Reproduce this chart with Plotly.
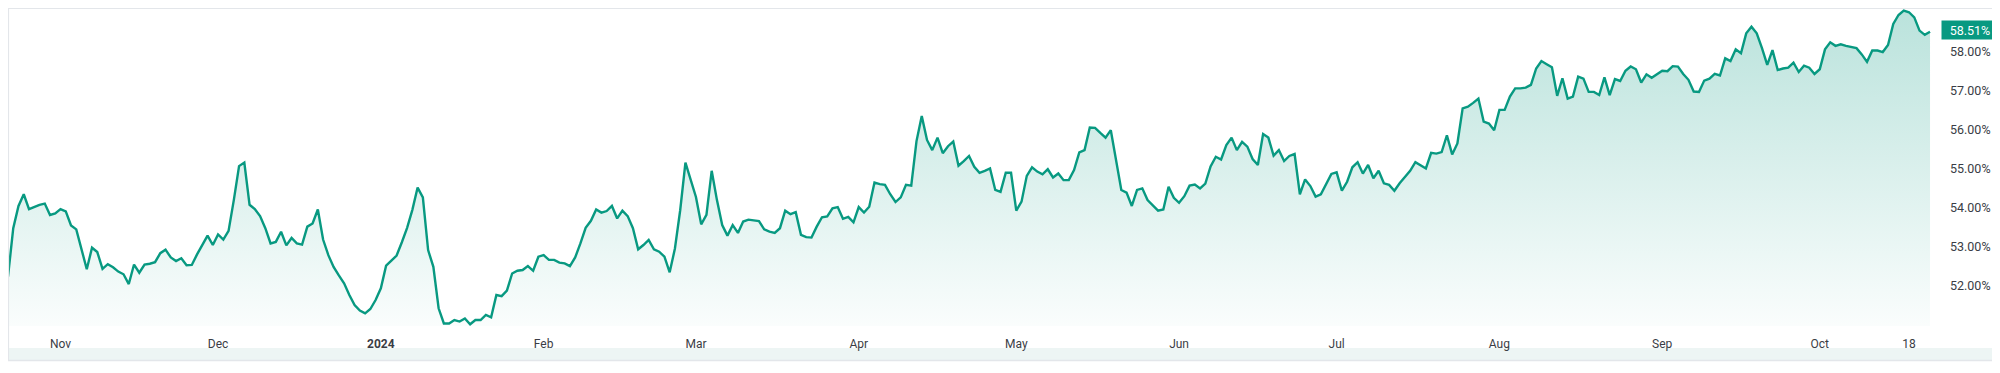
import plotly.graph_objects as go
import pandas as pd

# ---- data ----
start_date = "2023-10-22"
values = [
    52.24, 53.48, 54.05, 54.35, 53.97, 54.03, 54.08, 54.11, 53.82, 53.86,
    53.97, 53.91, 53.55, 53.45, 52.96, 52.43, 52.98, 52.87, 52.44, 52.56,
    52.48, 52.37, 52.30, 52.05, 52.55, 52.34, 52.55, 52.57, 52.61, 52.84,
    52.93, 52.73, 52.64, 52.71, 52.53, 52.54, 52.81, 53.05, 53.29, 53.05,
    53.32, 53.19, 53.41, 54.20, 55.07, 55.16, 54.08, 53.97, 53.79, 53.48,
    53.09, 53.13, 53.39, 53.04, 53.23, 53.09, 53.06, 53.52, 53.60, 53.96,
    53.19, 52.79, 52.49, 52.27, 52.07, 51.77, 51.51, 51.37, 51.30, 51.41,
    51.64, 51.94, 52.52, 52.65, 52.78, 53.12, 53.49, 53.95, 54.52, 54.27,
    52.92, 52.49, 51.43, 51.04, 51.04, 51.13, 51.09, 51.17, 51.02, 51.13,
    51.13, 51.26, 51.20, 51.77, 51.74,
    51.88, 52.32, 52.39, 52.41, 52.51, 52.39, 52.75, 52.79, 52.67, 52.67,
    52.60, 52.58, 52.51, 52.73, 53.09, 53.49, 53.67, 53.96, 53.88, 53.92,
    54.05, 53.73, 53.93, 53.79, 53.48, 52.94, 53.05, 53.18, 52.94, 52.88,
    52.75, 52.35, 52.96, 53.94, 55.16, 54.71, 54.28, 53.58, 53.82, 54.95,
    54.20, 53.56, 53.29, 53.56, 53.36, 53.65, 53.70, 53.68, 53.66, 53.45,
    53.39, 53.36, 53.48, 53.93, 53.84, 53.89, 53.31, 53.25, 53.24, 53.52,
    53.76, 53.78, 53.99, 54.02, 53.72, 53.77, 53.63, 54.02, 53.88, 54.03,
    54.65, 54.61, 54.59, 54.35, 54.15, 54.27, 54.59, 54.57, 55.71, 56.35,
    55.74, 55.48, 55.80, 55.40, 55.58, 55.70, 55.08, 55.20, 55.33, 55.05,
    54.90, 54.95, 55.01, 54.46, 54.41,
    54.90, 54.90, 53.93, 54.16, 54.82, 55.04, 54.93, 54.86, 54.99, 54.78,
    54.88, 54.71, 54.71, 54.97, 55.42, 55.48, 56.06, 56.05, 55.92, 55.80,
    55.99, 55.23, 54.46, 54.39, 54.05, 54.46, 54.50, 54.20, 54.06, 53.93,
    53.96, 54.54, 54.26, 54.13, 54.30, 54.57, 54.60, 54.50, 54.62, 55.06,
    55.31, 55.24, 55.61, 55.80, 55.48, 55.69, 55.57, 55.25, 55.10, 55.89,
    55.80, 55.34, 55.48, 55.20, 55.33, 55.38, 54.35, 54.73, 54.56, 54.29,
    54.35, 54.61, 54.87, 54.91, 54.44, 54.67, 55.04, 55.17, 54.88, 55.10,
    54.76, 54.95, 54.63, 54.59, 54.44, 54.63, 54.80, 54.95, 55.17, 55.10,
    55.01, 55.41, 55.39, 55.43, 55.86, 55.37, 55.65, 56.55, 56.59, 56.69,
    56.80, 56.21, 56.16, 55.99, 56.51,
    56.51, 56.85, 57.06, 57.06, 57.08, 57.15, 57.57, 57.76, 57.68, 57.60,
    56.87, 57.32, 56.80, 56.85, 57.36, 57.31, 56.97, 56.97, 56.89, 57.34,
    56.89, 57.30, 57.25, 57.51, 57.62, 57.55, 57.21, 57.42, 57.33, 57.43,
    57.51, 57.50, 57.63, 57.62, 57.43, 57.28, 56.98, 56.97, 57.26, 57.31,
    57.43, 57.39, 57.83, 57.76, 58.06, 57.96, 58.47, 58.64, 58.47, 58.09,
    57.66, 58.04, 57.53, 57.57, 57.59, 57.72, 57.48, 57.64, 57.59, 57.43,
    57.55, 58.06, 58.24, 58.15, 58.19, 58.15, 58.11, 58.09, 57.93, 57.74,
    58.03, 58.03, 57.99, 58.17,
    58.71, 58.94, 59.05, 59.01, 58.88, 58.54, 58.43, 58.51,
]
dates = pd.date_range(start_date, periods=len(values), freq="D")

x_tick_dates = ["2023-11-01", "2023-12-01", "2024-01-01", "2024-02-01", "2024-03-01",
                "2024-04-01", "2024-05-01", "2024-06-01", "2024-07-01", "2024-08-01",
                "2024-09-01", "2024-10-01", "2024-10-18"]
x_tick_labels = ["Nov", "Dec", "<b>2024</b>", "Feb", "Mar", "Apr", "May", "Jun", "Jul",
                 "Aug", "Sep", "Oct", "18"]
y_tick_vals = [52, 53, 54, 55, 56, 57, 58]
y_tick_labels = ["52.00%", "53.00%", "54.00%", "55.00%", "56.00%", "57.00%", "58.00%"]
last_label = "58.51%"

# ---- style ----
# The page body has an 8px default margin, so the figure is laid out in
# coordinates shifted by (8, 8) relative to the browser window.
OFF = 8
GREEN = "#089981"
Y_MIN, Y_MAX = 50.976, 59.093
W, H = 2000 - OFF, 373 - OFF
ML, MR, MT, MB = 0, 68, 1, 47
PW, PH = W - ML - MR, H - MT - MB


def px_x(s):  # window pixel -> paper x
    return (s - OFF - ML) / PW


def px_y(s):  # window pixel -> paper y
    return (H - MB - (s - OFF)) / PH


fig = go.Figure()
fig.add_trace(go.Scatter(
    x=dates, y=values, mode="lines",
    line=dict(color=GREEN, width=2.4),
    fill="tozeroy",
    fillgradient=dict(type="vertical", start=Y_MIN, stop=Y_MAX,
                      colorscale=[[0, "rgba(8,153,129,0.02)"], [1, "rgba(8,153,129,0.28)"]]),
    hoverinfo="skip", showlegend=False,
))

shapes = [
    # time-axis band
    dict(type="rect", xref="paper", yref="paper", x0=px_x(8), x1=px_x(2000),
         y0=px_y(360), y1=px_y(348), fillcolor="#edf5f4", line=dict(width=0), layer="below"),
    # frame lines
    dict(type="line", xref="paper", yref="paper", x0=px_x(8), x1=px_x(2000),
         y0=px_y(8.5), y1=px_y(8.5), line=dict(color="#e3e6ea", width=1.2), layer="above"),
    dict(type="line", xref="paper", yref="paper", x0=px_x(8), x1=px_x(2000),
         y0=px_y(360.5), y1=px_y(360.5), line=dict(color="#e3e6ea", width=1.5), layer="above"),
    dict(type="line", xref="paper", yref="paper", x0=px_x(8.5), x1=px_x(8.5),
         y0=px_y(8), y1=px_y(361), line=dict(color="#e3e6ea", width=1.2), layer="above"),
]

annotations = [
    dict(xref="paper", yref="y", x=1, y=values[-1], xanchor="left", yanchor="middle",
         xshift=9, yshift=1.5, text=last_label, showarrow=False,
         font=dict(family="Roboto", size=12.5, color="white"),
         bgcolor=GREEN, width=56, height=18, borderpad=0, align="center"),
]

fig.update_layout(
    width=W, height=H,
    margin=dict(l=ML, r=MR, t=MT, b=MB, autoexpand=False),
    paper_bgcolor="white", plot_bgcolor="white",
    shapes=shapes, annotations=annotations,
    font=dict(family="Roboto", size=12, color="#3a3d45"),
    xaxis=dict(
        type="date", automargin=False,
        range=["2023-10-22", "2024-10-22 09:00"],
        tickvals=x_tick_dates, ticktext=x_tick_labels,
        showgrid=False, zeroline=False, showline=False, ticks="", ticklen=0,
        ticklabelstandoff=9,
        tickfont=dict(family="Roboto", size=12, color="#3a3d45"),
    ),
    yaxis=dict(
        range=[Y_MIN, Y_MAX], side="right", automargin=False,
        tickvals=y_tick_vals, ticktext=y_tick_labels,
        showgrid=False, zeroline=False, showline=False, ticks="", ticklen=0,
        ticklabelstandoff=17,
        tickfont=dict(family="Roboto", size=12.5, color="#3a3d45"),
    ),
)

fig.write_html("out.html")
